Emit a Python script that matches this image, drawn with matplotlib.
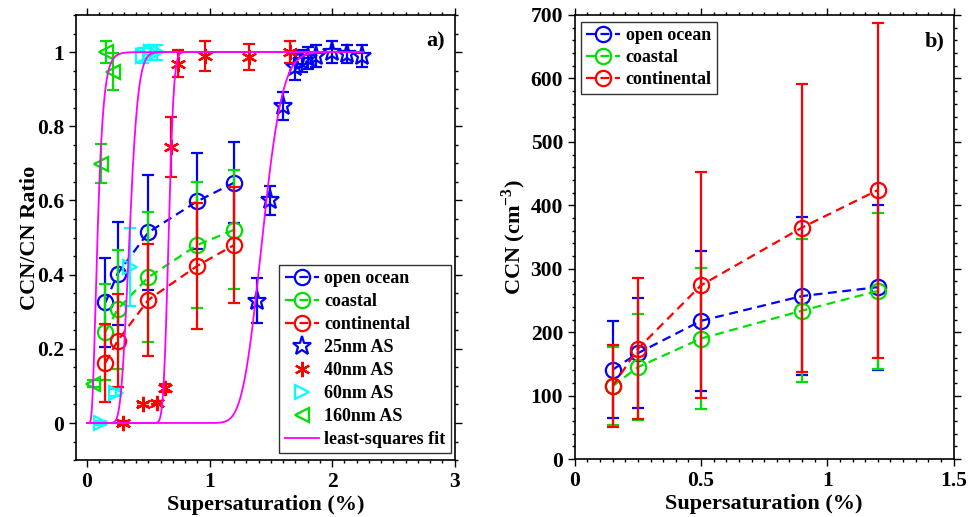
import math
import numpy as np
import matplotlib
matplotlib.use('Agg')
import matplotlib.pyplot as plt
from matplotlib.ticker import MultipleLocator

plt.rcParams['font.family'] = ['Liberation Serif', 'DejaVu Serif']
plt.rcParams['font.weight'] = 'bold'
plt.rcParams['mathtext.fontset'] = 'custom'
plt.rcParams['mathtext.rm'] = 'Liberation Serif:bold'
plt.rcParams['mathtext.bf'] = 'Liberation Serif:bold'

# supersaturations (%)
ss = [0.15, 0.25, 0.5, 0.9, 1.2]

# panel a: CCN/CN ratio per air mass
ratio_ocean = [0.325, 0.403, 0.514, 0.598, 0.648]
ratio_ocean_err = [0.12, 0.14, 0.155, 0.13, 0.11]
ratio_coast = [0.246, 0.307, 0.393, 0.48, 0.521]
ratio_coast_err = [0.13, 0.16, 0.175, 0.17, 0.16]
ratio_cont = [0.163, 0.222, 0.332, 0.424, 0.48]
ratio_cont_err = [0.105, 0.125, 0.15, 0.17, 0.157]

# ammonium sulfate calibration points
as25_x = [1.387, 1.49, 1.60, 1.70, 1.75, 1.80, 1.87, 2.0, 2.12, 2.24]
as25_y = [0.33, 0.60, 0.855, 0.96, 0.975, 0.985, 0.99, 1.0, 0.995, 0.99]
as25_err = [0.06, 0.04, 0.037, 0.035, 0.03, 0.03, 0.03, 0.03, 0.025, 0.03]
as40_x = [0.29, 0.46, 0.572, 0.635, 0.687, 0.741, 0.965, 1.32, 1.66]
as40_y = [0.0, 0.05, 0.055, 0.095, 0.744, 0.969, 0.99, 0.987, 1.0]
as40_err = [0.005, 0.005, 0.005, 0.01, 0.08, 0.037, 0.04, 0.035, 0.03]
as60_x = [0.114, 0.237, 0.35, 0.455, 0.52, 0.57]
as60_y = [0.0, 0.082, 0.42, 0.99, 1.0, 1.0]
as60_err = [0.005, 0.01, 0.105, 0.02, 0.02, 0.02]
as160_x = [0.046, 0.114, 0.155, 0.21]
as160_y = [0.106, 0.699, 1.0, 0.947]
as160_err = [0.01, 0.053, 0.03, 0.05]

# least-squares fit parameters (lognormal cdf): median ss and width
fit_mid = [1.43, 0.665, 0.345, 0.085]
fit_width = [0.09, 0.05, 0.16, 0.44]

# panel b: CCN concentrations (cm-3)
ccn_ocean = [141, 167, 218, 257, 271]
ccn_ocean_err = [77, 87, 110, 125, 130]
ccn_coast = [115, 145, 190, 234, 265]
ccn_coast_err = [62, 83, 111, 113, 123]
ccn_cont = [115, 174, 274, 365, 424]
ccn_cont_err = [65, 111, 178, 227, 264]

BLUE = '#0000ff'
GREEN = '#00e000'
RED = '#ff0000'
CYAN = '#00ffff'
MAGENTA = '#ff00ff'
DASH = (0, (4, 2.5))

fig = plt.figure(figsize=(9.71, 5.17), dpi=100)
ax1 = fig.add_axes([0.0783, 0.110, 0.390, 0.861])
ax2 = fig.add_axes([0.592, 0.112, 0.390, 0.859])


def series(ax, y, err, c, label):
    ax.errorbar(ss, y, yerr=err, fmt='none', ecolor=c, elinewidth=1.6,
                capsize=4, capthick=1.6)
    ax.plot(ss, y, ls=DASH, lw=1.6, color=c, marker='o', ms=11,
            mfc='none', mec=c, mew=1.6, label=label)


def as_points(ax, x, y, err, c, m, label, ms=10):
    ax.errorbar(x, y, yerr=err, fmt='none', ecolor=c, elinewidth=1.6,
                capsize=4, capthick=1.6)
    ax.plot(x, y, ls='none', marker=m, ms=ms, mfc='none', mec=c,
            mew=1.6, label=label)


# ---- panel a
series(ax1, ratio_ocean, ratio_ocean_err, BLUE, 'open ocean')
series(ax1, ratio_coast, ratio_coast_err, GREEN, 'coastal')
series(ax1, ratio_cont, ratio_cont_err, RED, 'continental')
as_points(ax1, as25_x, as25_y, as25_err, BLUE, '*', '25nm AS', ms=14)
as_points(ax1, as40_x, as40_y, as40_err, RED, (6, 2, 0), '40nm AS', ms=11)
as_points(ax1, as60_x, as60_y, as60_err, CYAN, '>', '60nm AS')
as_points(ax1, as160_x, as160_y, as160_err, GREEN, '<', '160nm AS')

xf = np.linspace(1e-4, 2.25, 1500)
for i in range(len(fit_mid)):
    yf = [0.5 * (1 + math.erf(math.log(v / fit_mid[i]) / (math.sqrt(2) * fit_width[i]))) for v in xf]
    lab = 'least-squares fit' if i == 0 else None
    ax1.plot(np.r_[0, xf], np.r_[0, yf], color=MAGENTA, lw=1.3, label=lab)

ax1.set_xlim(-0.09, 3)
ax1.set_ylim(-0.1, 1.1)
ax1.set_xticks([0, 1, 2, 3])
ax1.set_xticklabels(['0', '1', '2', '3'])
ax1.xaxis.set_minor_locator(MultipleLocator(0.1))
ax1.set_yticks([0, 0.2, 0.4, 0.6, 0.8, 1.0])
ax1.set_yticklabels(['0', '0.2', '0.4', '0.6', '0.8', '1'])
ax1.yaxis.set_minor_locator(MultipleLocator(0.05))
ax1.set_xlabel('Supersaturation (%)', fontsize=16, fontweight='bold', labelpad=2)
ax1.set_ylabel('CCN/CN Ratio', fontsize=16, fontweight='bold', labelpad=-2)
ax1.text(0.975, 0.94, 'a)', transform=ax1.transAxes, ha='right', va='center',
         fontsize=16, fontweight='bold')
leg1 = ax1.legend(loc='lower right', bbox_to_anchor=(0.99, 0.015), fontsize=13,
                  frameon=True, fancybox=False, edgecolor='black',
                  handlelength=1.9, handletextpad=0.3, labelspacing=0.33,
                  borderpad=0.3, borderaxespad=0)
leg1.get_frame().set_linewidth(1.0)

# ---- panel b
series(ax2, ccn_ocean, ccn_ocean_err, BLUE, 'open ocean')
series(ax2, ccn_coast, ccn_coast_err, GREEN, 'coastal')
series(ax2, ccn_cont, ccn_cont_err, RED, 'continental')
ax2.set_xlim(0, 1.5)
ax2.set_ylim(0, 700)
ax2.set_xticks([0, 0.5, 1.0, 1.5])
ax2.set_xticklabels(['0', '0.5', '1', '1.5'])
ax2.xaxis.set_minor_locator(MultipleLocator(0.05))
ax2.set_yticks(range(0, 701, 100))
ax2.yaxis.set_minor_locator(MultipleLocator(20))
ax2.set_xlabel('Supersaturation (%)', fontsize=16, fontweight='bold', labelpad=2)
ax2.set_ylabel(r'CCN (cm$^{\mathbf{-3}}$)', fontsize=16, fontweight='bold', labelpad=2)
ax2.text(0.975, 0.94, 'b)', transform=ax2.transAxes, ha='right', va='center',
         fontsize=16, fontweight='bold')
leg2 = ax2.legend(loc='upper left', bbox_to_anchor=(0.015, 0.985), fontsize=13,
                  frameon=True, fancybox=False, edgecolor='black',
                  handlelength=1.9, handletextpad=0.3, labelspacing=0.28,
                  borderpad=0.3, borderaxespad=0)
leg2.get_frame().set_linewidth(1.0)

for ax in (ax1, ax2):
    ax.tick_params(which='both', direction='out', top=True, right=True,
                   labelsize=15.5, width=1.0)
    ax.tick_params(which='major', length=5)
    ax.tick_params(which='minor', length=2.5)
    for lab in ax.get_xticklabels() + ax.get_yticklabels():
        lab.set_fontweight('bold')
    for sp in ax.spines.values():
        sp.set_linewidth(1.2)

fig.savefig('out.png', dpi=100)
